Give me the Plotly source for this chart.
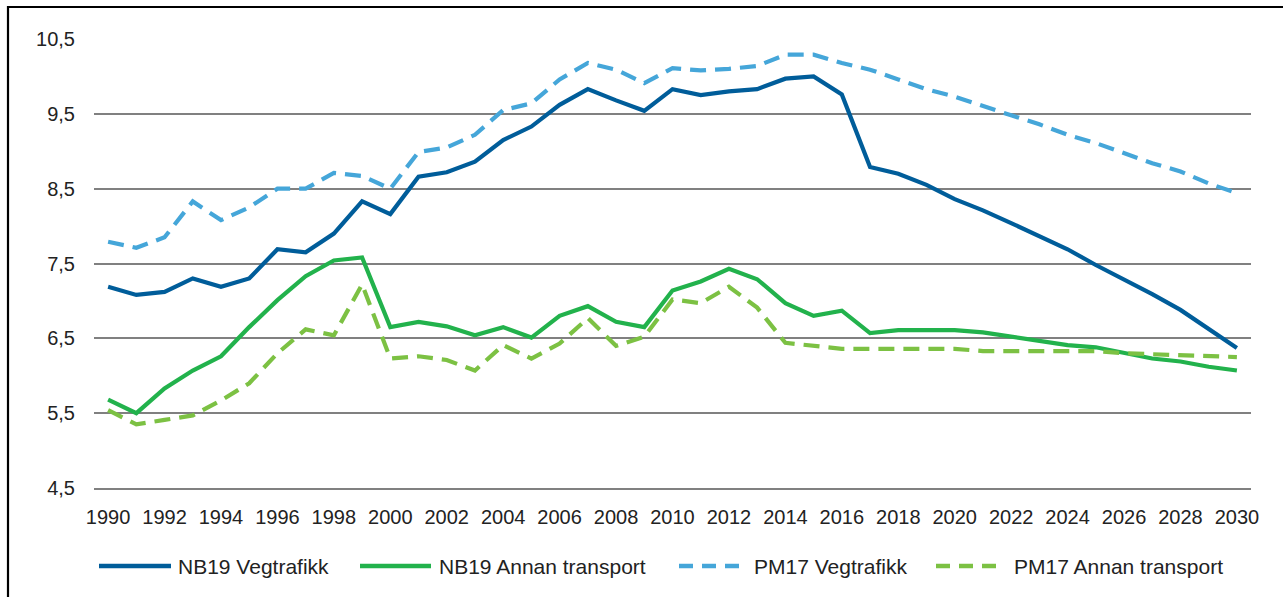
import plotly.graph_objects as go

years = list(range(1990, 2031))

nb19_veg = [7.19, 7.08, 7.12, 7.30, 7.19, 7.30, 7.69, 7.65, 7.90, 8.33,
            8.16, 8.66, 8.72, 8.86, 9.15, 9.33, 9.62, 9.83, 9.68, 9.54,
            9.83, 9.75, 9.80, 9.83, 9.97, 10.00, 9.76, 8.79, 8.70, 8.55,
            8.36, 8.21, 8.04, 7.86, 7.69, 7.48, 7.29, 7.09, 6.88, 6.63, 6.37]

nb19_annan = [5.68, 5.50, 5.83, 6.07, 6.26, 6.65, 7.01, 7.33, 7.54, 7.58,
              6.65, 6.72, 6.66, 6.54, 6.65, 6.51, 6.80, 6.93, 6.72, 6.65,
              7.14, 7.26, 7.43, 7.29, 6.97, 6.80, 6.87, 6.57, 6.61, 6.61,
              6.61, 6.58, 6.52, 6.47, 6.41, 6.38, 6.31, 6.23, 6.19, 6.12, 6.07]

pm17_veg = [7.79, 7.71, 7.85, 8.33, 8.08, 8.25, 8.50, 8.50, 8.71, 8.67,
            8.50, 8.99, 9.05, 9.22, 9.55, 9.64, 9.96, 10.18, 10.09, 9.91,
            10.11, 10.08, 10.10, 10.14, 10.29, 10.29, 10.18, 10.09, 9.96, 9.83,
            9.73, 9.60, 9.48, 9.36, 9.22, 9.11, 8.97, 8.84, 8.73, 8.57, 8.44]

pm17_annan = [5.54, 5.35, 5.41, 5.47, 5.67, 5.90, 6.30, 6.62, 6.54, 7.22,
              6.23, 6.26, 6.21, 6.07, 6.41, 6.23, 6.43, 6.77, 6.40, 6.52,
              7.02, 6.97, 7.19, 6.91, 6.44, 6.40, 6.36, 6.36, 6.36, 6.36,
              6.36, 6.33, 6.33, 6.33, 6.33, 6.33, 6.30, 6.29, 6.28, 6.26, 6.25]

x_tickvals = list(range(1990, 2031, 2))
x_ticktext = [str(y) for y in x_tickvals]
y_tickvals = [4.5, 5.5, 6.5, 7.5, 8.5, 9.5, 10.5]

series = [
    ("NB19 Vegtrafikk", nb19_veg, "#005d9a", "solid"),
    ("NB19 Annan transport", nb19_annan, "#22b24c", "solid"),
    ("PM17 Vegtrafikk", pm17_veg, "#45a6d9", "16px,9px"),
    ("PM17 Annan transport", pm17_annan, "#7cc143", "16px,9px"),
]

W, H = 1283, 597
L, R, T, B = 94, 32, 39, 109
PW, PH = W - L - R, H - T - B

def px(x):
    return (x - L) / PW

def py(y):
    return (H - B - y) / PH

fig = go.Figure()
for name, vals, color, dash in series:
    fig.add_trace(go.Scatter(
        x=years, y=vals, name=name, mode="lines",
        line=dict(color=color, width=4.2, dash=dash),
        showlegend=False,
    ))

shapes = []
annotations = []
# custom legend
legend_items = [
    (99, 171, 176, series[0]),
    (360, 431, 437, series[1]),
    (679, 740, 752, series[2]),
    (936, 998, 1012, series[3]),
]
ly = 566
for x0, x1, tx, (name, _, color, dash) in legend_items:
    shapes.append(dict(
        type="line", xref="paper", yref="paper",
        x0=px(x0), x1=px(x1), y0=py(ly), y1=py(ly),
        line=dict(color=color, width=4.5,
                  dash="solid" if dash == "solid" else "14px,9px"),
    ))
    annotations.append(dict(
        text=name, xref="paper", yref="paper", x=px(tx), y=py(ly),
        xanchor="left", yanchor="middle", showarrow=False,
        font=dict(size=21, color="#222222", family="Liberation Sans, Arial"),
    ))

# outer frame
shapes.append(dict(
    type="rect", xref="paper", yref="paper",
    x0=px(8), x1=px(W + 20), y0=py(7), y1=py(H + 20),
    line=dict(color="#000000", width=2.2), fillcolor="rgba(0,0,0,0)",
    layer="above",
))

fig.update_layout(
    width=W, height=H,
    margin=dict(l=L, r=R, t=T, b=B),
    plot_bgcolor="white", paper_bgcolor="white",
    separators=",.",
    font=dict(family="Liberation Sans, Arial", size=20, color="#222222"),
    shapes=shapes, annotations=annotations,
    showlegend=False,
    xaxis=dict(
        range=[1989.5, 2030.5], tickmode="array",
        tickvals=x_tickvals, ticktext=x_ticktext,
        showgrid=False, zeroline=False,
        showline=True, linecolor="#808080", linewidth=1.5,
        ticks="", ticklabelstandoff=10,
        tickfont=dict(size=20),
    ),
    yaxis=dict(
        range=[4.5, 10.5], tickmode="array", tickvals=y_tickvals,
        tickformat=".1f",
        showgrid=True, gridcolor="#808080", gridwidth=1.5,
        zeroline=False, showline=False, ticks="", ticklabelstandoff=18,
        tickfont=dict(size=20),
    ),
)

fig.write_html(
    "out.html",
    config={"displayModeBar": False},
    post_script="document.body.style.margin='0';document.body.style.overflow='hidden';",
)
